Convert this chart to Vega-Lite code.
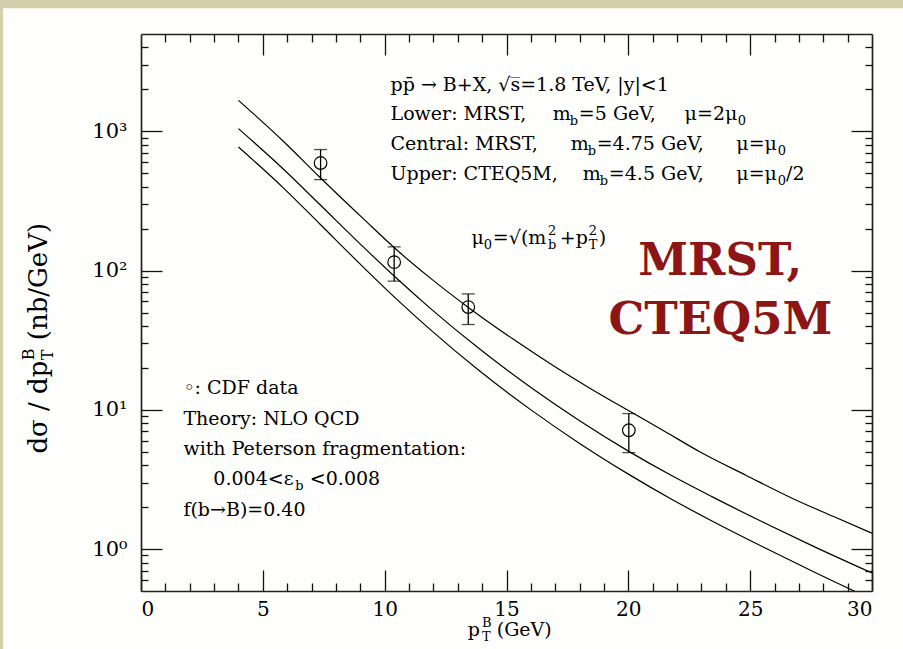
{
  "$schema": "https://vega.github.io/schema/vega-lite/v6.json",
  "width": 731,
  "height": 557,
  "autosize": {"type": "none"},
  "padding": {"left": 141, "top": 34, "right": 31, "bottom": 58},
  "background": "#d4cfad",
  "config": {
    "view": {"stroke": null},
    "axis": {"grid": false, "domain": false, "title": null, "tickColor": "#111", "tickWidth": 1.3, "labelFont": "DejaVu Serif", "labelFontSize": 20, "labelColor": "#000", "domainColor": "#222", "domainWidth": 1.7}
  },
  "datasets": {
    "curves": [
      {"c": "upper", "x": 4.0, "y": 1670}, {"c": "upper", "x": 5.84, "y": 849}, {"c": "upper", "x": 7.34, "y": 468}, {"c": "upper", "x": 9.12, "y": 236}, {"c": "upper", "x": 10.49, "y": 141}, {"c": "upper", "x": 11.85, "y": 89}, {"c": "upper", "x": 13.42, "y": 54.6}, {"c": "upper", "x": 15.27, "y": 32.2}, {"c": "upper", "x": 16.91, "y": 20.8}, {"c": "upper", "x": 18.42, "y": 14.3}, {"c": "upper", "x": 20.02, "y": 9.84}, {"c": "upper", "x": 21.5, "y": 7.0}, {"c": "upper", "x": 22.93, "y": 5.0}, {"c": "upper", "x": 24.84, "y": 3.38}, {"c": "upper", "x": 26.76, "y": 2.3}, {"c": "upper", "x": 28.4, "y": 1.72}, {"c": "upper", "x": 30.0, "y": 1.3},
      {"c": "middle", "x": 4.0, "y": 1046}, {"c": "middle", "x": 5.84, "y": 536}, {"c": "middle", "x": 7.34, "y": 298}, {"c": "middle", "x": 9.12, "y": 148}, {"c": "middle", "x": 10.49, "y": 88}, {"c": "middle", "x": 11.85, "y": 54}, {"c": "middle", "x": 13.9, "y": 27.3}, {"c": "middle", "x": 16.09, "y": 14.1}, {"c": "middle", "x": 18.0, "y": 8.35}, {"c": "middle", "x": 20.02, "y": 5.03}, {"c": "middle", "x": 21.83, "y": 3.33}, {"c": "middle", "x": 23.47, "y": 2.36}, {"c": "middle", "x": 25.66, "y": 1.52}, {"c": "middle", "x": 27.58, "y": 1.05}, {"c": "middle", "x": 30.0, "y": 0.673},
      {"c": "lower", "x": 4.0, "y": 771}, {"c": "lower", "x": 5.84, "y": 393}, {"c": "lower", "x": 7.34, "y": 216}, {"c": "lower", "x": 9.12, "y": 106}, {"c": "lower", "x": 10.49, "y": 62.4}, {"c": "lower", "x": 11.85, "y": 38}, {"c": "lower", "x": 13.9, "y": 19.0}, {"c": "lower", "x": 16.09, "y": 9.75}, {"c": "lower", "x": 18.0, "y": 5.74}, {"c": "lower", "x": 20.02, "y": 3.44}, {"c": "lower", "x": 21.83, "y": 2.25}, {"c": "lower", "x": 23.47, "y": 1.58}, {"c": "lower", "x": 25.66, "y": 1.01}, {"c": "lower", "x": 27.58, "y": 0.69}, {"c": "lower", "x": 30.0, "y": 0.435}
    ],
    "cdf": [
      {"x": 7.37, "y": 592, "lo": 450, "hi": 740},
      {"x": 10.39, "y": 115, "lo": 84, "hi": 148},
      {"x": 13.43, "y": 54.7, "lo": 41, "hi": 68},
      {"x": 20.02, "y": 7.13, "lo": 4.93, "hi": 9.4}
    ],
    "txt": [
      {"t": "pp̄  → B+X, √s̅=1.8 TeV, |y|<1", "x": 10.24, "y": 1945},
      {"t": "Lower: MRST,", "x": 10.24, "y": 1200},
      {"t": "m", "x": 16.9, "y": 1200},
      {"t": "=5 GeV,", "x": 17.97, "y": 1200},
      {"t": "μ=2μ", "x": 22.31, "y": 1200},
      {"t": "Central: MRST,", "x": 10.24, "y": 731},
      {"t": "m", "x": 17.64, "y": 731},
      {"t": "=4.75 GeV,", "x": 18.7, "y": 731},
      {"t": "μ=μ", "x": 24.43, "y": 731},
      {"t": "Upper: CTEQ5M,", "x": 10.24, "y": 445},
      {"t": "m", "x": 18.13, "y": 445},
      {"t": "=4.5 GeV,", "x": 19.2, "y": 445},
      {"t": "μ=μ", "x": 24.43, "y": 445},
      {"t": "/2", "x": 26.47, "y": 445},
      {"t": "μ", "x": 13.56, "y": 156},
      {"t": "=√(m", "x": 14.44, "y": 156},
      {"t": "+p", "x": 17.19, "y": 156},
      {"t": ")", "x": 18.79, "y": 156},
      {"t": "◦: CDF data", "x": 1.74, "y": 13.06},
      {"t": "Theory: NLO QCD", "x": 1.74, "y": 7.84},
      {"t": "with Peterson fragmentation:", "x": 1.74, "y": 4.71},
      {"t": "0.004<ε", "x": 2.97, "y": 2.87},
      {"t": "<0.008", "x": 6.93, "y": 2.87},
      {"t": "f(b→B)=0.40", "x": 1.74, "y": 1.73},
      {"t": "p", "x": 13.41, "y": 0.236},
      {"t": "(GeV)", "x": 14.6, "y": 0.236}
    ],
    "sub": [
      {"t": "b", "x": 17.6, "y": 1200},
      {"t": "0", "x": 24.49, "y": 1200},
      {"t": "b", "x": 18.33, "y": 731},
      {"t": "0", "x": 26.13, "y": 731},
      {"t": "b", "x": 18.83, "y": 445},
      {"t": "0", "x": 26.13, "y": 445},
      {"t": "0", "x": 14.07, "y": 156},
      {"t": "b", "x": 16.7, "y": 156},
      {"t": "T", "x": 18.38, "y": 156},
      {"t": "b", "x": 6.33, "y": 2.87},
      {"t": "T", "x": 13.99, "y": 0.236}
    ],
    "sup": [
      {"t": "2", "x": 16.7, "y": 156},
      {"t": "2", "x": 18.38, "y": 156},
      {"t": "B", "x": 13.99, "y": 0.236}
    ],
    "big": [
      {"t": "MRST,", "x": 23.77, "y": 92.5},
      {"t": "CTEQ5M", "x": 23.78, "y": 35.2}
    ],
    "ytit": [
      {"t": "dσ / dp", "x": -3.87, "y": 4.85},
      {"t": "(nb/GeV)", "x": -3.87, "y": 31.6}
    ],
    "ytsub": [{"t": "T", "x": -3.87, "y": 22.7}],
    "ytsup": [{"t": "B", "x": -3.87, "y": 22.7}]
  },
  "resolve": {"axis": {"x": "independent", "y": "independent"}},
  "layer": [
    {
      "data": {"values": [{}]},
      "mark": {"type": "rect", "color": "#fefffd"},
      "encoding": {
        "x": {"datum": -5.66, "type": "quantitative", "scale": {"domain": [0, 30]}, "axis": null},
        "x2": {"datum": 33},
        "y": {"datum": 7640, "type": "quantitative", "scale": {"type": "log", "domain": [0.5, 5000]}, "axis": null},
        "y2": {"datum": 0.1}
      }
    },
    {
      "data": {"name": "curves"},
      "mark": {"type": "line", "color": "#000", "strokeWidth": 1.2, "interpolate": "monotone", "clip": true},
      "encoding": {
        "x": {"field": "x", "type": "quantitative", "scale": {"domain": [0, 30]}, "axis": {"orient": "bottom", "zindex": 2, "domain": true, "values": [0, 5, 10, 15, 20, 25, 30], "tickSize": -21, "labelPadding": 29, "labelBaseline": "top"}},
        "y": {"field": "y", "type": "quantitative", "scale": {"type": "log", "domain": [0.5, 5000]}, "axis": {"orient": "left", "zindex": 2, "domain": true, "values": [1, 10, 100, 1000], "tickSize": -21, "labelPadding": 35, "labelFontSize": 21, "labelExpr": "datum.value == 1 ? '10⁰' : datum.value == 10 ? '10¹' : datum.value == 100 ? '10²' : '10³'"}},
        "detail": {"field": "c"}
      }
    },
    {
      "data": {"name": "cdf"},
      "mark": {"type": "rule", "color": "#000", "strokeWidth": 1.3},
      "encoding": {
        "x": {"field": "x", "type": "quantitative", "scale": {"domain": [0, 30]}, "axis": {"orient": "bottom", "zindex": 2, "values": [1,2,3,4,6,7,8,9,11,12,13,14,16,17,18,19,21,22,23,24,26,27,28,29], "tickSize": -8, "labels": false}},
        "y": {"field": "lo", "type": "quantitative", "scale": {"type": "log", "domain": [0.5, 5000]}, "axis": {"orient": "left", "zindex": 2, "values": [0.6,0.7,0.8,0.9,2,3,4,5,6,7,8,9,20,30,40,50,60,70,80,90,200,300,400,500,600,700,800,900,2000,3000,4000], "tickSize": -7, "labels": false}},
        "y2": {"field": "hi"}
      }
    },
    {
      "data": {"name": "cdf"},
      "mark": {"type": "tick", "orient": "horizontal", "color": "#000", "size": 13, "thickness": 1.3},
      "encoding": {
        "x": {"field": "x", "type": "quantitative", "scale": {"domain": [0, 30]}, "axis": {"orient": "top", "zindex": 2, "domain": true, "values": [5, 10, 15, 20, 25], "tickSize": -21, "labels": false}},
        "y": {"field": "lo", "type": "quantitative", "scale": {"type": "log", "domain": [0.5, 5000]}, "axis": {"orient": "right", "zindex": 2, "domain": true, "values": [1, 10, 100, 1000], "tickSize": -21, "labels": false}}
      }
    },
    {
      "data": {"name": "cdf"},
      "mark": {"type": "tick", "orient": "horizontal", "color": "#000", "size": 13, "thickness": 1.3},
      "encoding": {
        "x": {"field": "x", "type": "quantitative", "scale": {"domain": [0, 30]}, "axis": {"orient": "top", "zindex": 2, "values": [1,2,3,4,6,7,8,9,11,12,13,14,16,17,18,19,21,22,23,24,26,27,28,29], "tickSize": -8, "labels": false}},
        "y": {"field": "hi", "type": "quantitative", "scale": {"type": "log", "domain": [0.5, 5000]}, "axis": {"orient": "right", "zindex": 2, "values": [0.6,0.7,0.8,0.9,2,3,4,5,6,7,8,9,20,30,40,50,60,70,80,90,200,300,400,500,600,700,800,900,2000,3000,4000], "tickSize": -7, "labels": false}}
      }
    },
    {
      "data": {"name": "cdf"},
      "mark": {"type": "point", "shape": "circle", "filled": false, "color": "#000", "size": 160, "strokeWidth": 1.2, "opacity": 1},
      "encoding": {
        "x": {"field": "x", "type": "quantitative", "scale": {"domain": [0, 30]}, "axis": null},
        "y": {"field": "y", "type": "quantitative", "scale": {"type": "log", "domain": [0.5, 5000]}, "axis": null}
      }
    },
    {
      "data": {"name": "txt"},
      "mark": {"type": "text", "font": "DejaVu Serif", "fontSize": 19, "align": "left", "baseline": "alphabetic", "color": "#000"},
      "encoding": {
        "x": {"field": "x", "type": "quantitative", "scale": {"domain": [0, 30]}, "axis": null},
        "y": {"field": "y", "type": "quantitative", "scale": {"type": "log", "domain": [0.5, 5000]}, "axis": null},
        "text": {"field": "t"}
      }
    },
    {
      "data": {"name": "sub"},
      "mark": {"type": "text", "font": "DejaVu Serif", "fontSize": 13, "align": "left", "baseline": "alphabetic", "dy": 5, "color": "#000"},
      "encoding": {
        "x": {"field": "x", "type": "quantitative", "scale": {"domain": [0, 30]}, "axis": null},
        "y": {"field": "y", "type": "quantitative", "scale": {"type": "log", "domain": [0.5, 5000]}, "axis": null},
        "text": {"field": "t"}
      }
    },
    {
      "data": {"name": "sup"},
      "mark": {"type": "text", "font": "DejaVu Serif", "fontSize": 13, "align": "left", "baseline": "alphabetic", "dy": -9, "color": "#000"},
      "encoding": {
        "x": {"field": "x", "type": "quantitative", "scale": {"domain": [0, 30]}, "axis": null},
        "y": {"field": "y", "type": "quantitative", "scale": {"type": "log", "domain": [0.5, 5000]}, "axis": null},
        "text": {"field": "t"}
      }
    },
    {
      "data": {"name": "big"},
      "mark": {"type": "text", "font": "DejaVu Serif", "fontSize": 45, "fontWeight": "bold", "align": "center", "baseline": "alphabetic", "color": "#8c1515"},
      "encoding": {
        "x": {"field": "x", "type": "quantitative", "scale": {"domain": [0, 30]}, "axis": null},
        "y": {"field": "y", "type": "quantitative", "scale": {"type": "log", "domain": [0.5, 5000]}, "axis": null},
        "text": {"field": "t"}
      }
    },
    {
      "data": {"name": "ytit"},
      "mark": {"type": "text", "font": "DejaVu Serif", "fontSize": 26, "align": "left", "baseline": "alphabetic", "angle": 270, "color": "#000"},
      "encoding": {
        "x": {"field": "x", "type": "quantitative", "scale": {"domain": [0, 30]}, "axis": null},
        "y": {"field": "y", "type": "quantitative", "scale": {"type": "log", "domain": [0.5, 5000]}, "axis": null},
        "text": {"field": "t"}
      }
    },
    {
      "data": {"name": "ytsub"},
      "mark": {"type": "text", "font": "DejaVu Serif", "fontSize": 16, "align": "left", "baseline": "alphabetic", "angle": 270, "dy": 6, "color": "#000"},
      "encoding": {
        "x": {"field": "x", "type": "quantitative", "scale": {"domain": [0, 30]}, "axis": null},
        "y": {"field": "y", "type": "quantitative", "scale": {"type": "log", "domain": [0.5, 5000]}, "axis": null},
        "text": {"field": "t"}
      }
    },
    {
      "data": {"name": "ytsup"},
      "mark": {"type": "text", "font": "DejaVu Serif", "fontSize": 16, "align": "left", "baseline": "alphabetic", "angle": 270, "dy": -13, "color": "#000"},
      "encoding": {
        "x": {"field": "x", "type": "quantitative", "scale": {"domain": [0, 30]}, "axis": null},
        "y": {"field": "y", "type": "quantitative", "scale": {"type": "log", "domain": [0.5, 5000]}, "axis": null},
        "text": {"field": "t"}
      }
    }
  ]
}
